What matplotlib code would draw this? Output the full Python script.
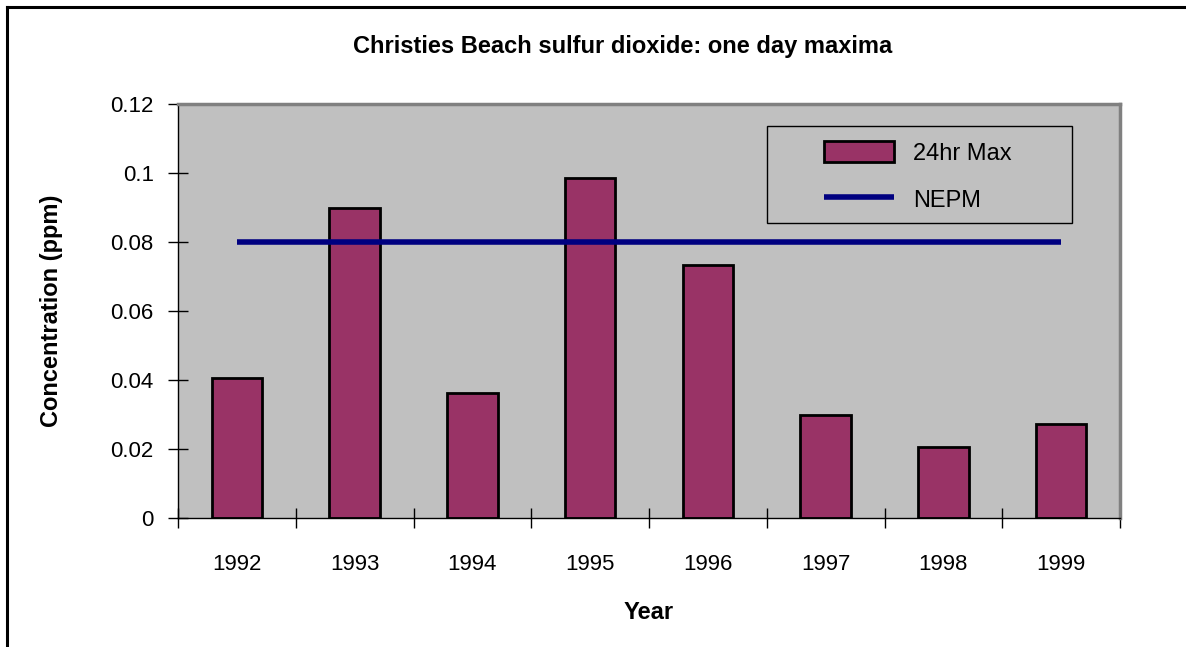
import matplotlib.pyplot as plt
import numpy as np
from matplotlib.patches import Rectangle
from matplotlib.lines import Line2D

plt.rcParams['font.family'] = ['Liberation Sans', 'DejaVu Sans']

years = ['1992', '1993', '1994', '1995', '1996', '1997', '1998', '1999']
max24 = [0.0407, 0.0899, 0.0362, 0.0986, 0.0733, 0.0299, 0.0207, 0.0272]
nepm = [0.08, 0.08, 0.08, 0.08, 0.08, 0.08, 0.08, 0.08]

fig = plt.figure(figsize=(11.86, 6.47), dpi=100)
ax = fig.add_axes([178/1186, 1-518/647, 942/1186, 414/647])
ax.set_facecolor('#c0c0c0')

x = np.arange(len(years))
bars = ax.bar(x, max24, width=0.43, color='#993366', edgecolor='black', linewidth=2, label='24hr Max', zorder=2)
line, = ax.plot(x, nepm, color='#000080', linewidth=4, label='NEPM', zorder=3, solid_capstyle='butt')

ax.set_xlim(-0.5, len(years) - 0.5)
ax.set_ylim(0, 0.12)
ax.set_yticks([0, 0.02, 0.04, 0.06, 0.08, 0.1, 0.12])
ax.set_yticklabels(['0', '0.02', '0.04', '0.06', '0.08', '0.1', '0.12'])
ax.tick_params(axis='y', direction='inout', length=15, width=1, labelsize=16, pad=10)

ax.set_xticks(x)
ax.set_xticklabels(years)
ax.set_xticks(np.arange(-0.5, len(years)), minor=True)
ax.tick_params(axis='x', which='major', length=0, labelsize=16, pad=26)
ax.tick_params(axis='x', which='minor', direction='inout', length=15, width=1)

for s in ['left', 'bottom']:
    ax.spines[s].set_color('black')
    ax.spines[s].set_linewidth(1)
for s in ['top', 'right']:
    ax.spines[s].set_color('#808080')
    ax.spines[s].set_linewidth(2.5)

ax.set_ylabel('Concentration (ppm)', fontsize=17, fontweight='bold')
ax.yaxis.set_label_coords(-0.122, 0.5)
ax.set_xlabel('Year', fontsize=17, fontweight='bold')
ax.xaxis.set_label_coords(0.5, -0.2)

fig.text(623/1186, 1-47/647, 'Christies Beach sulfur dioxide: one day maxima',
         ha='center', va='center', fontsize=17, fontweight='bold')

# legend box
ax.add_patch(Rectangle((0.625, 0.7126), 0.949-0.625, 0.947-0.7126, transform=ax.transAxes,
                       facecolor='none', edgecolor='black', linewidth=1, zorder=4))
ax.legend(handles=[bars, line], loc='upper left', bbox_to_anchor=(0.663, 0.962),
          frameon=False, fontsize=17, handlelength=2.97, handleheight=1.0,
          handletextpad=0.8, labelspacing=0.99)

# outer frame
fig.add_artist(Line2D([7/1186, 7/1186], [0, 1-7/647], color='black', linewidth=2.2, transform=fig.transFigure))
fig.add_artist(Line2D([7/1186, 1], [1-7/647, 1-7/647], color='black', linewidth=2.2, transform=fig.transFigure))

fig.savefig('out.png', dpi=100)
